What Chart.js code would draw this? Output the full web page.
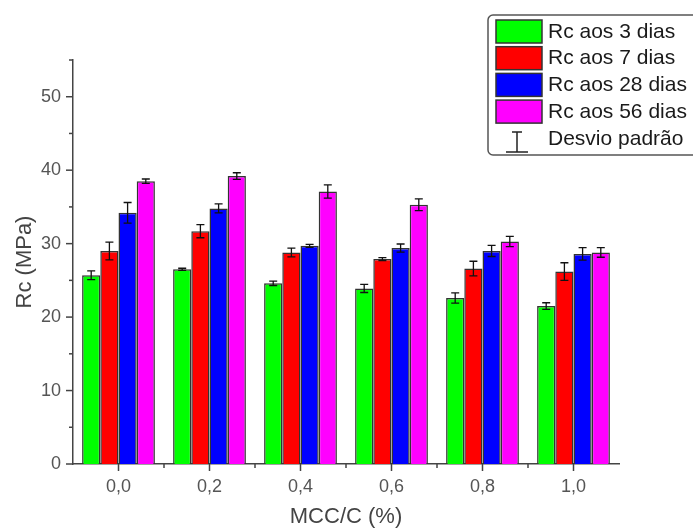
<!DOCTYPE html>
<html>
<head>
<meta charset="utf-8">
<script src="https://cdn.jsdelivr.net/npm/chart.js@4.4.1/dist/chart.umd.min.js"></script>
<style>
  html, body { margin: 0; padding: 0; background: #ffffff; }
  #wrap { width: 693px; height: 530px; position: relative; }
</style>
</head>
<body>
<div id="wrap"><canvas id="c" width="693" height="530"></canvas></div>
<script>
const categories = ['0,0', '0,2', '0,4', '0,6', '0,8', '1,0'];
const seriesLabels = ['Rc aos 3 dias', 'Rc aos 7 dias', 'Rc aos 28 dias', 'Rc aos 56 dias'];
const rc3  = [25.7, 26.5, 24.6, 23.9, 22.6, 21.5];
const rc7  = [29.0, 31.7, 28.8, 27.9, 26.6, 26.2];
const rc28 = [34.2, 34.8, 29.7, 29.4, 29.0, 28.6];
const rc56 = [38.5, 39.2, 37.1, 35.3, 30.3, 28.8];
const sd3  = [0.6, 0.15, 0.3, 0.55, 0.7, 0.45];
const sd7  = [1.2, 0.9, 0.6, 0.2, 1.0, 1.2];
const sd28 = [1.4, 0.6, 0.2, 0.55, 0.75, 0.85];
const sd56 = [0.3, 0.45, 0.9, 0.8, 0.7, 0.65];
const errorLegendLabel = 'Desvio padrão';
const xTitle = 'MCC/C (%)';
const yTitle = 'Rc (MPa)';
const yMin = 0, yMax = 55, yMinorStep = 5, yMajorStep = 10;

const seriesValues = [rc3, rc7, rc28, rc56];
const seriesErrors = [sd3, sd7, sd28, sd56];
const colors = ['#00ff00', '#ff0000', '#0000ff', '#ff00ff'];

const FONT = "'Liberation Sans', Arial, sans-serif";
const AXIS_COLOR = '#444';

const errorBarPlugin = {
  id: 'errorBars',
  afterDatasetsDraw(chart) {
    const ctx = chart.ctx;
    const y = chart.scales.y;
    ctx.save();
    ctx.strokeStyle = '#111';
    ctx.lineWidth = 1.3;
    chart.data.datasets.forEach((ds, i) => {
      const meta = chart.getDatasetMeta(i);
      const errs = seriesErrors[i];
      meta.data.forEach((bar, j) => {
        const v = ds.data[j];
        const e = errs[j];
        const yTop = y.getPixelForValue(v + e);
        const yBot = y.getPixelForValue(v - e);
        const x = bar.x;
        const cap = 4;
        ctx.beginPath();
        ctx.moveTo(x, yTop); ctx.lineTo(x, yBot);
        ctx.moveTo(x - cap, yTop); ctx.lineTo(x + cap, yTop);
        ctx.moveTo(x - cap, yBot); ctx.lineTo(x + cap, yBot);
        ctx.stroke();
      });
    });
    ctx.restore();
  }
};

const tickPlugin = {
  id: 'customTicks',
  afterDraw(chart) {
    const ctx = chart.ctx;
    const xs = chart.scales.x, ys = chart.scales.y;
    const area = chart.chartArea;
    ctx.save();
    ctx.strokeStyle = AXIS_COLOR;
    ctx.lineWidth = 1.5;
    for (let v = yMin; v <= yMax; v += yMinorStep) {
      const py = ys.getPixelForValue(v);
      const len = (v % yMajorStep === 0) ? 7 : 4;
      ctx.beginPath();
      ctx.moveTo(area.left - len, py); ctx.lineTo(area.left, py);
      ctx.stroke();
    }
    for (let i = 0; i < categories.length; i++) {
      const px = xs.getPixelForValue(i);
      ctx.beginPath();
      ctx.moveTo(px, area.bottom); ctx.lineTo(px, area.bottom + 7);
      ctx.stroke();
      if (i < categories.length - 1) {
        const pm = (px + xs.getPixelForValue(i + 1)) / 2;
        ctx.beginPath();
        ctx.moveTo(pm, area.bottom); ctx.lineTo(pm, area.bottom + 4);
        ctx.stroke();
      }
    }
    ctx.restore();
  }
};

const legendPlugin = {
  id: 'boxLegend',
  afterDraw(chart) {
    const ctx = chart.ctx;
    ctx.save();
    const bx = 488, by = 15, bw = 220, bh = 140, r = 5;
    ctx.beginPath();
    ctx.moveTo(bx + r, by);
    ctx.lineTo(bx + bw - r, by);
    ctx.arcTo(bx + bw, by, bx + bw, by + r, r);
    ctx.lineTo(bx + bw, by + bh - r);
    ctx.arcTo(bx + bw, by + bh, bx + bw - r, by + bh, r);
    ctx.lineTo(bx + r, by + bh);
    ctx.arcTo(bx, by + bh, bx, by + bh - r, r);
    ctx.lineTo(bx, by + r);
    ctx.arcTo(bx, by, bx + r, by, r);
    ctx.closePath();
    ctx.fillStyle = '#ffffff';
    ctx.fill();
    ctx.strokeStyle = '#555';
    ctx.lineWidth = 1.5;
    ctx.stroke();

    ctx.font = '21px ' + FONT;
    ctx.textBaseline = 'middle';
    ctx.textAlign = 'left';
    const pitch = 26.7;
    chart.data.datasets.forEach((ds, i) => {
      const sy = 20 + i * pitch;
      ctx.fillStyle = ds.backgroundColor;
      ctx.fillRect(496, sy, 46, 23);
      ctx.strokeStyle = '#333';
      ctx.lineWidth = 1.5;
      ctx.strokeRect(496, sy, 46, 23);
      ctx.fillStyle = '#1a1a1a';
      ctx.fillText(ds.label, 548, sy + 12);
    });
    const cx = 517, y1 = 132, y2 = 152;
    ctx.strokeStyle = '#222';
    ctx.lineWidth = 1.5;
    ctx.beginPath();
    ctx.moveTo(cx, y1); ctx.lineTo(cx, y2);
    ctx.moveTo(cx - 5, y1); ctx.lineTo(cx + 5, y1);
    ctx.moveTo(cx - 11, y2); ctx.lineTo(cx + 11, y2);
    ctx.stroke();
    ctx.fillStyle = '#1a1a1a';
    ctx.fillText(errorLegendLabel, 548, 139);
    ctx.restore();
  }
};

const datasets = seriesValues.map((vals, i) => ({
  label: seriesLabels[i],
  data: vals,
  backgroundColor: colors[i],
  borderColor: '#333',
  borderWidth: 1.5,
  borderSkipped: 'start',
  categoryPercentage: 0.8,
  barPercentage: 1.0
}));

new Chart(document.getElementById('c'), {
  type: 'bar',
  data: { labels: categories, datasets },
  plugins: [errorBarPlugin, tickPlugin, legendPlugin],
  options: {
    responsive: false,
    animation: false,
    devicePixelRatio: 1,
    layout: { padding: { left: 0, top: 60, right: 74, bottom: 0 } },
    plugins: { legend: { display: false }, tooltip: { enabled: false } },
    scales: {
      x: {
        offset: true,
        grid: { display: false, drawTicks: false },
        border: { display: true, color: AXIS_COLOR, width: 1.5 },
        ticks: { color: '#555', font: { family: FONT, size: 18 }, padding: 12, maxRotation: 0 },
        title: { display: true, text: xTitle, color: '#444', font: { family: FONT, size: 22 }, padding: { top: 0, bottom: 0 } },
        afterFit(scale) { scale.height = 66; }
      },
      y: {
        min: yMin, max: yMax,
        grid: { display: false, drawTicks: false },
        border: { display: true, color: AXIS_COLOR, width: 1.5 },
        ticks: {
          stepSize: yMinorStep,
          autoSkip: false,
          color: '#555',
          font: { family: FONT, size: 18 },
          padding: 12,
          callback: (v) => (v % yMajorStep === 0 ? String(v) : '')
        },
        title: { display: true, text: yTitle, color: '#444', font: { family: FONT, size: 22 }, padding: { top: 12, bottom: 0 } },
        afterFit(scale) { scale.width = 73; }
      }
    }
  }
});
</script>
</body>
</html>
